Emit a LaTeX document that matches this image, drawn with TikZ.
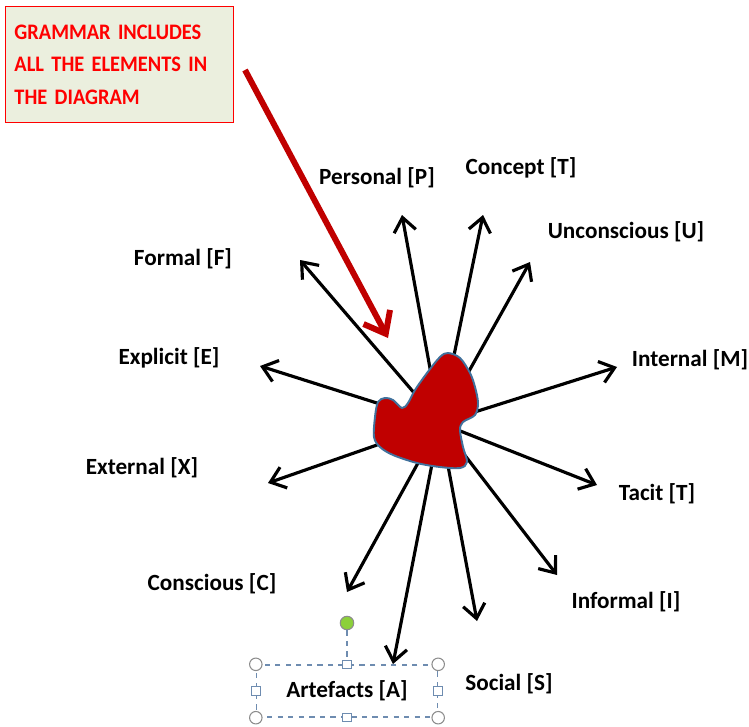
\documentclass[tikz,border=0pt]{standalone}
\usepackage{fontspec}
\setmainfont{Carlito}
\newfontfamily\notefam[FakeStretch=0.92, UprightFont=*-Bold, BoldFont=*-Bold]{Carlito}
\usetikzlibrary{arrows.meta}
\definecolor{gdark}{HTML}{C00000}
\definecolor{gedge}{HTML}{41719C}
\definecolor{gnote}{HTML}{EBEFDE}
\definecolor{gsel}{HTML}{6E8CB0}
\definecolor{ghand}{HTML}{8C8C8C}
\definecolor{grot}{HTML}{8CD03A}
\newcommand{\notefont}{\notefam\fontsize{12.6}{18.7}\selectfont}

\begin{document}
\begin{tikzpicture}[%
    x=0.02cm, y=-0.02cm,          % one unit is one pixel of the sketch
    >={Straight Barb[length=2.8mm,width=4.4mm]},
    every node/.style={font=\bfseries\fontsize{13.2}{15}\selectfont}]
% -------------------------------------------------
% A few styles
\tikzset{
  lbl/.style={inner sep=0pt},
  spoke/.style={->, draw, black, line width=1.8pt},
  note/.style={draw=red, fill=gnote, line width=0.8pt, anchor=north west,
    align=left, text=red, text width=4.2cm, minimum height=2.32cm,
    inner xsep=5pt, font=\notefont},
  pointer/.style={->, draw, gdark, line width=3.4pt,
    >={Straight Barb[length=3.8mm,width=6mm]}},
  sel/.style={draw=gsel, dashed, line width=0.8pt, minimum width=3.62cm,
    minimum height=1.04cm},
  hround/.style={circle, draw=ghand, fill=white, line width=0.6pt,
    minimum size=0.25cm, inner sep=0pt},
  hsquare/.style={rectangle, draw=gsel, fill=white, line width=0.6pt,
    minimum size=0.17cm, inner sep=0pt},
  hrot/.style={circle, draw=ghand, fill=grot, line width=0.6pt,
    minimum size=0.27cm, inner sep=0pt}
}
\useasboundingbox (0,0) rectangle (749,726);

% -------------------------------------------------
% The note in the corner
\node [note] (note) at (5,6) {GRAMMAR INCLUDES\\ALL THE ELEMENTS IN\\THE DIAGRAM};

% -------------------------------------------------
% The labels round the core
\node [lbl] (P) at (377,178) {Personal [P]};
\node [lbl] (T1) at (521,168) {Concept [T]};
\node [lbl] (U) at (626,232) {Unconscious [U]};
\node [lbl] (F) at (183,259) {Formal [F]};
\node [lbl] (E) at (169,358) {Explicit [E]};
\node [lbl] (M) at (690,360) {Internal [M]};
\node [lbl] (X) at (142,468) {External [X]};
\node [lbl] (T2) at (657,494) {Tacit [T]};
\node [lbl] (C) at (212,584) {Conscious [C]};
\node [lbl] (I) at (626,602) {Informal [I]};
\node [lbl] (S) at (509,684) {Social [S]};
\node [sel] (A) at (347,691) {Artefacts [A]};

% -------------------------------------------------
% Arrow tips, just short of each label
\coordinate (core) at (440,423);
\coordinate (tP) at (402,215);
\coordinate (tT1) at (483,215);
\coordinate (tU) at (530,262);
\coordinate (tF) at (300,260);
\coordinate (tE) at (260,366);
\coordinate (tM) at (617,367);
\coordinate (tX) at (268,483);
\coordinate (tT2) at (597,485);
\coordinate (tC) at (347,592);
\coordinate (tI) at (557,575);
\coordinate (tS) at (477,621);
\coordinate (tA) at (393,664);

\draw [spoke] (core) -- (tP);
\draw [spoke] (core) -- (tT1);
\draw [spoke] (core) -- (tU);
\draw [spoke] (core) -- (tF);
\draw [spoke] (core) -- (tE);
\draw [spoke] (core) -- (tM);
\draw [spoke] (core) -- (tX);
\draw [spoke] (core) -- (tT2);
\draw [spoke] (core) -- (tC);
\draw [spoke] (core) -- (tI);
\draw [spoke] (core) -- (tS);
\draw [spoke] (core) -- (tA);

% -------------------------------------------------
% The core itself, drawn over the ends of the spokes
\draw [fill=gdark, draw=gedge, line width=1.1pt]
  plot [smooth cycle, tension=0.55] coordinates {
    (448,353) (460,358) (470,373) (475,387) (478,403) (475,415)
    (463,422) (460,430) (463,447) (467,462) (460,468) (440,467)
    (417,463) (393,455) (380,447) (374,437) (375,417) (378,402)
    (385,398) (393,400) (402,408) (408,403) (415,390) (427,373)
    (440,357)};

% -------------------------------------------------
% The red pointer from the note
\coordinate (pin) at (245,70);
\coordinate (pout) at (388,338);
\draw [pointer] (pin) -- (pout);

% -------------------------------------------------
% Selection handles round Artefacts
\node [hrot] (rot) at (347,623) {};
\draw [gsel, dashed, line width=0.6pt] (rot) -- (A.north);
\node [hround] (h1) at (A.north west) {};
\node [hround] (h2) at (A.north east) {};
\node [hround] (h3) at (A.south west) {};
\node [hround] (h4) at (A.south east) {};
\node [hsquare] (h5) at (A.north) {};
\node [hsquare] (h6) at (A.south) {};
\node [hsquare] (h7) at (A.west) {};
\node [hsquare] (h8) at (A.east) {};
\end{tikzpicture}
\end{document}
